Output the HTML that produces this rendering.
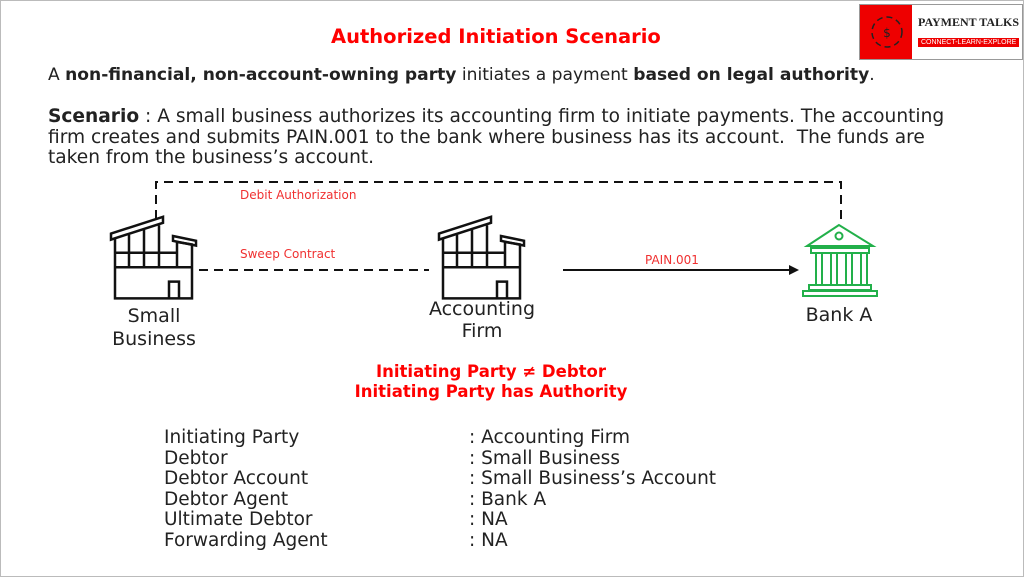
<!DOCTYPE html>
<html><head><meta charset="utf-8"><style>
body{margin:0;width:1024px;height:577px;overflow:hidden;background:#fff;font-family:"DejaVu Sans","Liberation Sans",sans-serif;}
#s{position:absolute;left:0;top:0;width:1022px;height:575px;border:1px solid #bbb;background:#fff;}
.t{position:absolute;white-space:nowrap;color:#222;}
.r{color:#f00;}
.lbl{font-size:12px;color:#f03030;}
.row{position:absolute;font-size:18.5px;color:#222;white-space:nowrap;}
</style></head><body><div id="s">
<div class="t r" style="left:330px;top:24px;font-size:19.5px;font-weight:bold;">Authorized Initiation Scenario</div>
<div style="position:absolute;left:858px;top:3px;width:162px;height:54px;border:1px solid #999;background:#fff;overflow:hidden;">
 <div style="position:absolute;left:0;top:0;width:52px;height:54px;background:#e00;"></div>
 <svg style="position:absolute;left:4px;top:4px" width="46" height="46"><circle cx="23" cy="23" r="15" fill="none" stroke="#222" stroke-width="1.5" stroke-dasharray="6 4"/><text x="23" y="28" font-size="12" text-anchor="middle" fill="#222">$</text></svg>
 <div class="t" style="left:58px;top:10px;font-family:'Liberation Serif',serif;font-weight:bold;font-size:12px;">PAYMENT TALKS</div>
 <div class="t" style="left:58px;top:33px;background:#e00;color:#fff;font-size:7px;padding:1px 3px;font-family:'Liberation Sans';">CONNECT-LEARN-EXPLORE</div>
</div>
<div class="t" style="left:47px;top:64px;font-size:17.1px;">A <b>non-financial, non-account-owning party</b> initiates a payment <b>based on legal authority</b>.</div>
<div class="t" style="left:47px;top:106px;font-size:18.6px;line-height:20.5px;"><b>Scenario</b> : A small business authorizes its accounting firm to initiate payments. The accounting<br>firm creates and submits PAIN.001 to the bank where business has its account.&nbsp; The funds are<br>taken from the business’s account.</div>
<svg style="position:absolute;left:0;top:0" width="1024" height="577">
 <defs>
  <g id="b" fill="none" stroke="#111" stroke-width="2.5">
   <path vector-effect="non-scaling-stroke" d="M0,28 L52,14 L52,19 L0,33 Z" fill="#fff"/>
   <path vector-effect="non-scaling-stroke" d="M62,30 L85,34 L85,38 L62,34 Z" fill="#fff"/>
   <path vector-effect="non-scaling-stroke" d="M4,32 L4,82 L81,82 L81,37 L66,35 L66,56 M4,56 L81,56 M4,44 L66,44 M18,29 L18,56 M33,25 L33,56 M48,21 L48,56 M66,44 L66,56 M58,82 L58,68 L68,68 L68,82"/>
  </g>
 </defs>
 <g transform="translate(110,199) scale(1,1.2)"><use href="#b"/></g>
 <g transform="translate(438,199) scale(1,1.2)"><use href="#b"/></g>
 <path d="M155,218 V181 H840 V222" fill="none" stroke="#111" stroke-width="2" stroke-dasharray="9 6"/>
 <path d="M198,269 H428" fill="none" stroke="#111" stroke-width="2" stroke-dasharray="9 6"/>
 <path d="M562,269 H790" stroke="#111" stroke-width="2"/>
 <path d="M798,269 L788,264 L788,274 Z" fill="#111"/>
 <g fill="none" stroke="#22b04a" stroke-width="2">
  <path d="M838,224 L806,245 L872,245 Z"/><circle cx="838" cy="235" r="3.5"/>
  <rect x="810" y="247" width="58" height="5"/>
  <path d="M815,253 V283 M821,253 V283 M830,253 V283 M836,253 V283 M845,253 V283 M851,253 V283 M860,253 V283 M866,253 V283"/>
  <rect x="808" y="284" width="62" height="5"/><rect x="802" y="290" width="74" height="5"/>
 </g>
</svg>
<div class="t lbl" style="left:239px;top:187px;">Debit Authorization</div>
<div class="t lbl" style="left:239px;top:246px;">Sweep Contract</div>
<div class="t lbl" style="left:644px;top:252px;">PAIN.001</div>
<div class="t" style="left:93px;width:120px;text-align:center;top:304px;font-size:19px;line-height:23px;">Small<br>Business</div>
<div class="t" style="left:411px;width:140px;text-align:center;top:297px;font-size:19px;line-height:22px;">Accounting<br>Firm</div>
<div class="t" style="left:778px;width:120px;text-align:center;top:303px;font-size:19px;">Bank A</div>
<div class="t r" style="left:290px;width:400px;text-align:center;top:361px;font-size:16.5px;font-weight:bold;line-height:20px;">Initiating Party ≠ Debtor<br>Initiating Party has Authority</div>
<div class="row" style="left:163px;top:427px;line-height:20.5px;">Initiating Party<br>Debtor<br>Debtor Account<br>Debtor Agent<br>Ultimate Debtor<br>Forwarding Agent</div>
<div class="row" style="left:468px;top:427px;line-height:20.5px;">: Accounting Firm<br>: Small Business<br>: Small Business’s Account<br>: Bank A<br>: NA<br>: NA</div>
</div></body></html>
